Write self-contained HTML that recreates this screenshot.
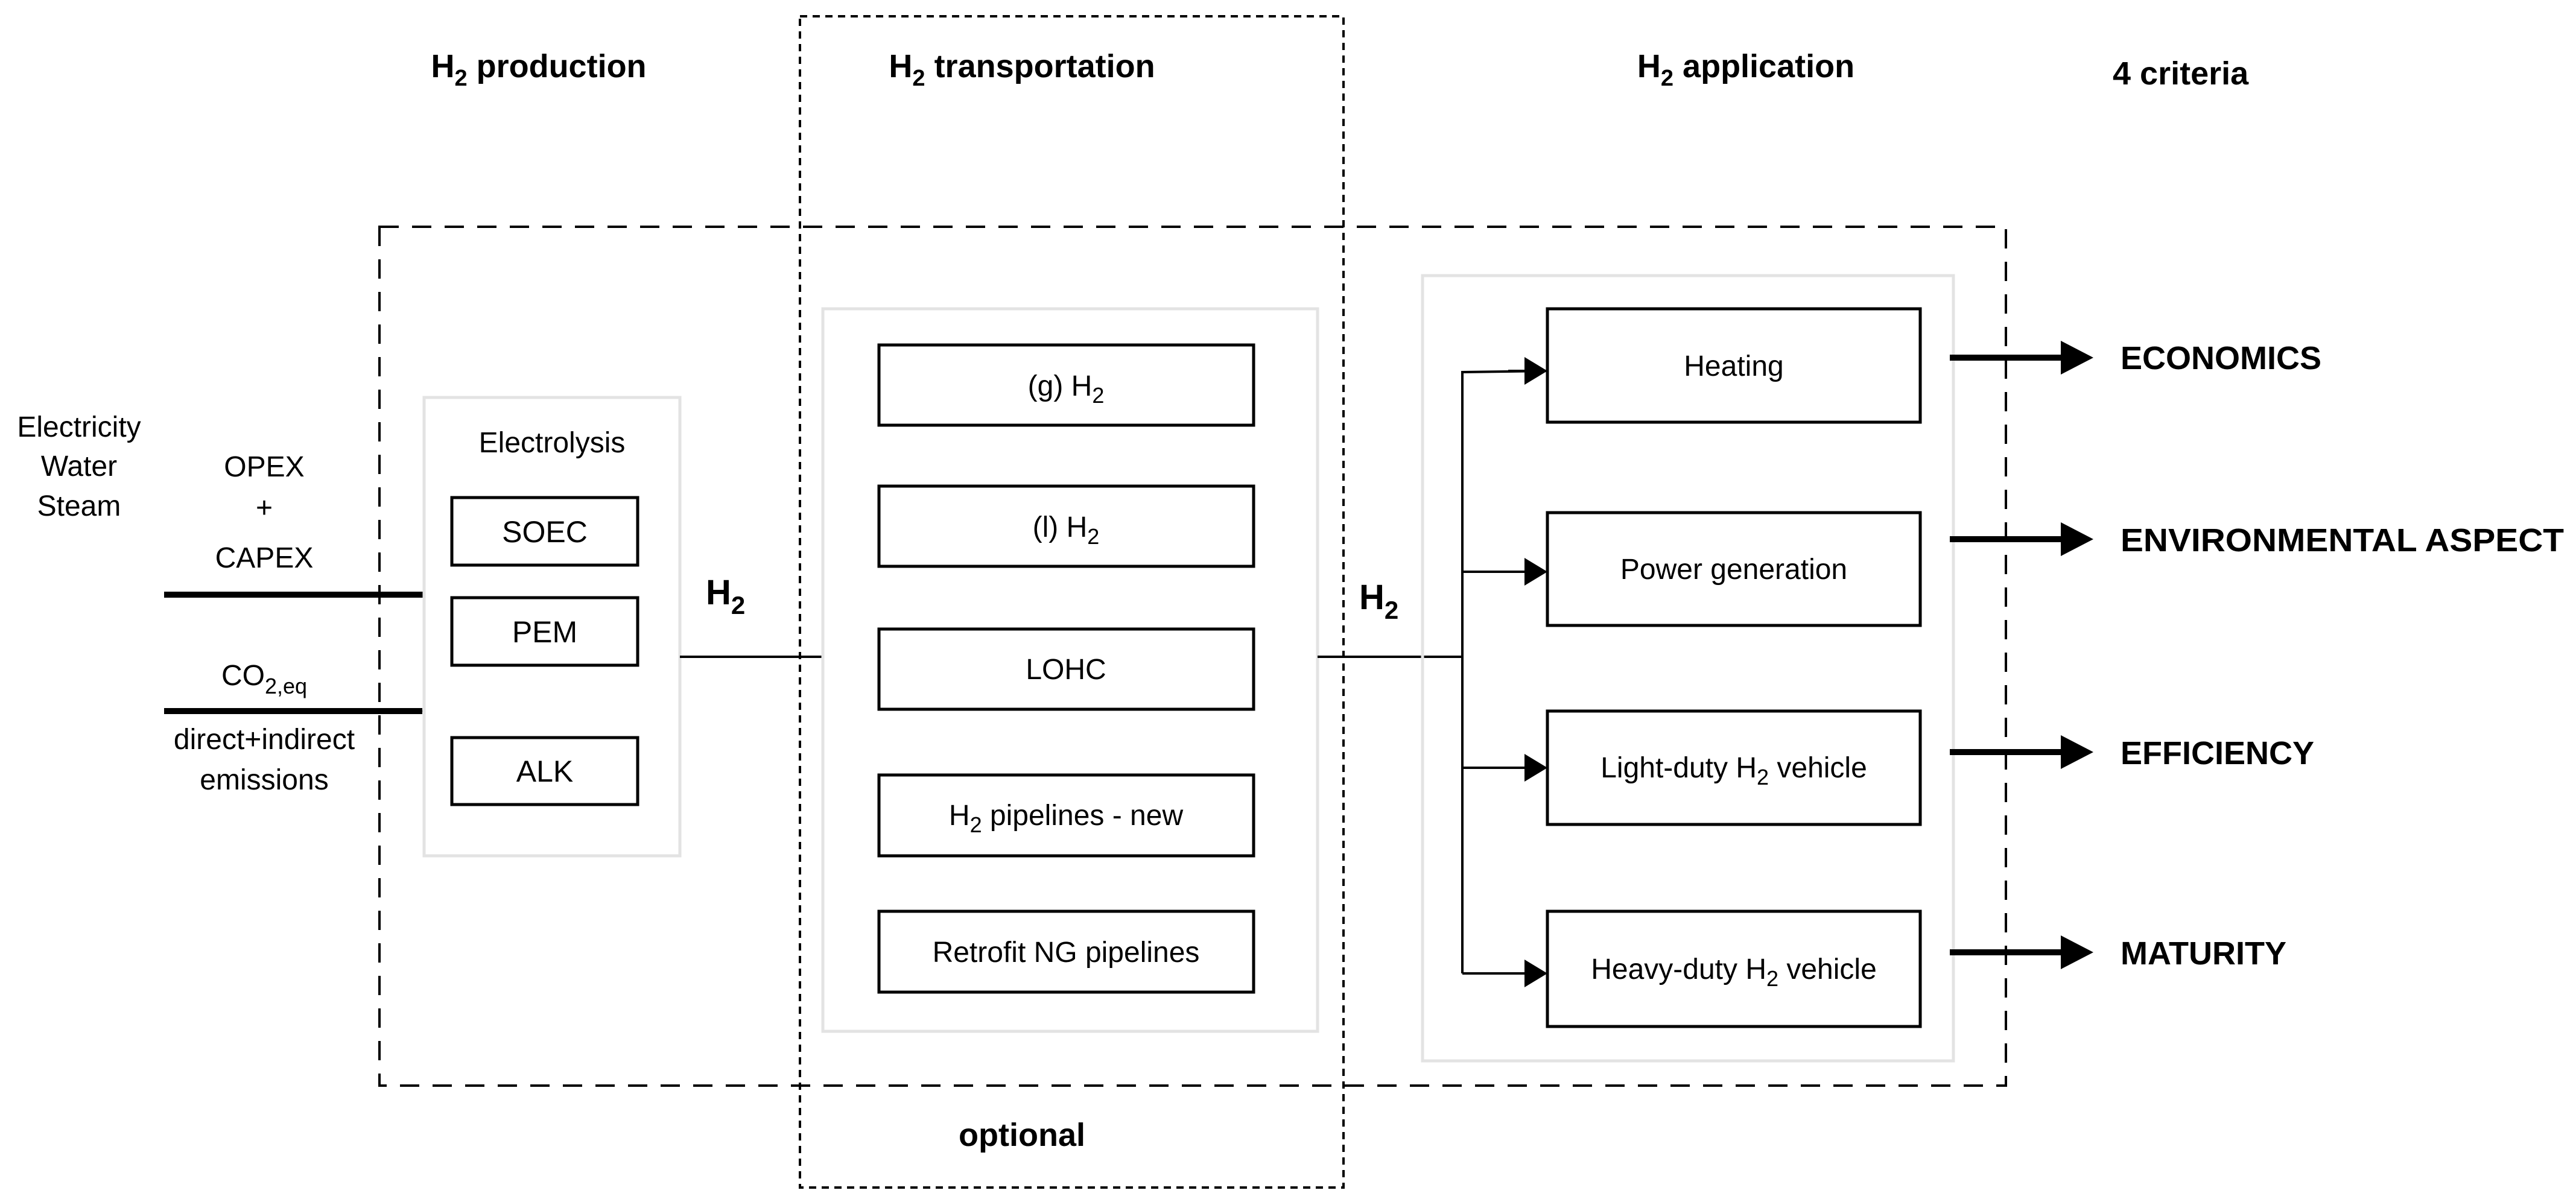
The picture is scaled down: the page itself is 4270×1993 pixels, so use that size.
<!DOCTYPE html>
<html><head><meta charset="utf-8"><style>
html,body{margin:0;padding:0;background:#fff}
svg{display:block}
text{font-family:"Liberation Sans",Arial,sans-serif;fill:#000}
.b{font-weight:bold}
</style></head><body>
<svg width="4270" height="1993" viewBox="0 0 4270 1993" xmlns="http://www.w3.org/2000/svg">
<defs>
<marker id="big" markerWidth="10" markerHeight="10" refX="9" refY="5" orient="auto" markerUnits="userSpaceOnUse" viewBox="0 0 10 10"><path d="M0,0 L10,5 L0,10 Z" fill="#000"/></marker>
</defs>
<!-- outer dashed box -->
<rect x="629" y="376" width="2696" height="1424" fill="none" stroke="#000" stroke-width="4" stroke-dasharray="32,22"/>
<!-- dotted transport box -->
<rect x="1326" y="27" width="901" height="1942" fill="none" stroke="#000" stroke-width="4" stroke-dasharray="12,9"/>

<!-- headers -->
<text class="b" x="893" y="128" font-size="54" text-anchor="middle">H<tspan font-size="38" dy="14">2</tspan><tspan dy="-14"> production</tspan></text>
<text class="b" x="1694" y="128" font-size="54" text-anchor="middle">H<tspan font-size="38" dy="14">2</tspan><tspan dy="-14"> transportation</tspan></text>
<text class="b" x="2894" y="128" font-size="54" text-anchor="middle">H<tspan font-size="38" dy="14">2</tspan><tspan dy="-14"> application</tspan></text>
<text class="b" x="3502" y="140" font-size="54">4 criteria</text>
<text class="b" x="1694" y="1900" font-size="54" text-anchor="middle">optional</text>

<!-- inputs -->
<g font-size="48" text-anchor="middle">
<text x="131" y="724">Electricity</text>
<text x="131" y="789">Water</text>
<text x="131" y="855">Steam</text>
<text x="438" y="790">OPEX</text>
<text x="438" y="858">+</text>
<text x="438" y="941">CAPEX</text>
<text x="438" y="1136">CO<tspan font-size="36" dy="14">2,eq</tspan></text>
<text x="438" y="1242">direct+indirect</text>
<text x="438" y="1309">emissions</text>
</g>
<line x1="272" y1="986" x2="703" y2="986" stroke="#000" stroke-width="10" marker-end="url(#big)" />
<line x1="272" y1="1179" x2="700" y2="1179" stroke="#000" stroke-width="10" marker-end="url(#big)"/>
<style>#big path{}</style>

<!-- electrolysis container -->
<rect x="703" y="659" width="424" height="760" fill="none" stroke="#e3e3e3" stroke-width="5"/>
<text x="915" y="750" font-size="48" text-anchor="middle">Electrolysis</text>
<g fill="none" stroke="#000" stroke-width="5">
<rect x="749" y="825" width="308" height="112"/>
<rect x="749" y="991" width="308" height="112"/>
<rect x="749" y="1223" width="308" height="111"/>
</g>
<g font-size="50" text-anchor="middle">
<text x="903" y="899">SOEC</text>
<text x="903" y="1065">PEM</text>
<text x="903" y="1296">ALK</text>
</g>

<!-- H2 link -->
<line x1="1127" y1="1089" x2="1364" y2="1089" stroke="#000" stroke-width="4"/>
<text class="b" x="1170" y="1002" font-size="58">H<tspan font-size="42" dy="16">2</tspan></text>

<!-- transport container -->
<rect x="1364" y="512" width="820" height="1198" fill="none" stroke="#e3e3e3" stroke-width="5"/>
<g fill="none" stroke="#000" stroke-width="5">
<rect x="1457" y="572" width="621" height="133"/>
<rect x="1457" y="806" width="621" height="133"/>
<rect x="1457" y="1043" width="621" height="133"/>
<rect x="1457" y="1285" width="621" height="134"/>
<rect x="1457" y="1511" width="621" height="134"/>
</g>
<g font-size="48" text-anchor="middle">
<text x="1767" y="656">(g) H<tspan font-size="36" dy="12">2</tspan></text>
<text x="1767" y="890">(l) H<tspan font-size="36" dy="12">2</tspan></text>
<text x="1767" y="1126">LOHC</text>
<text x="1767" y="1368">H<tspan font-size="36" dy="12">2</tspan><tspan dy="-12"> pipelines - new</tspan></text>
<text x="1767" y="1595">Retrofit NG pipelines</text>
</g>

<!-- H2 to application -->
<line x1="2184" y1="1089" x2="2424" y2="1089" stroke="#000" stroke-width="4"/>
<text class="b" x="2253" y="1010" font-size="58">H<tspan font-size="42" dy="16">2</tspan></text>
<polyline points="2424,1089 2424,617 2565,615" fill="none" stroke="#000" stroke-width="4"/>
<line x1="2424" y1="1089" x2="2424" y2="1614" stroke="#000" stroke-width="4"/>
<g stroke="#000" stroke-width="4">
<line x1="2424" y1="948" x2="2530" y2="948"/>
<line x1="2424" y1="1273" x2="2530" y2="1273"/>
<line x1="2424" y1="1614" x2="2530" y2="1614"/>
<line x1="2500" y1="615" x2="2530" y2="615"/>
</g>
<g fill="#000">
<path d="M2527,592 L2565,615 L2527,638 Z"/>
<path d="M2527,925 L2565,948 L2527,971 Z"/>
<path d="M2527,1250 L2565,1273 L2527,1296 Z"/>
<path d="M2527,1591 L2565,1614 L2527,1637 Z"/>
</g>

<!-- application container -->
<rect x="2358" y="457" width="880" height="1302" fill="none" stroke="#e3e3e3" stroke-width="5"/>
<g fill="none" stroke="#000" stroke-width="5">
<rect x="2565" y="512" width="618" height="188"/>
<rect x="2565" y="850" width="618" height="187"/>
<rect x="2565" y="1179" width="618" height="188"/>
<rect x="2565" y="1511" width="618" height="191"/>
</g>
<g font-size="48" text-anchor="middle">
<text x="2874" y="623">Heating</text>
<text x="2874" y="960">Power generation</text>
<text x="2874" y="1289">Light-duty H<tspan font-size="36" dy="12">2</tspan><tspan dy="-12"> vehicle</tspan></text>
<text x="2874" y="1623">Heavy-duty H<tspan font-size="36" dy="12">2</tspan><tspan dy="-12"> vehicle</tspan></text>
</g>

<!-- criteria arrows -->
<g stroke="#000" stroke-width="10">
<line x1="3232" y1="593" x2="3420" y2="593"/>
<line x1="3232" y1="894" x2="3420" y2="894"/>
<line x1="3232" y1="1247" x2="3420" y2="1247"/>
<line x1="3232" y1="1579" x2="3420" y2="1579"/>
</g>
<g fill="#000">
<path d="M3416,565 L3470,593 L3416,621 Z"/>
<path d="M3416,866 L3470,894 L3416,922 Z"/>
<path d="M3416,1219 L3470,1247 L3416,1275 Z"/>
<path d="M3416,1551 L3470,1579 L3416,1607 Z"/>
</g>
<g class="b" font-size="54">
<text class="b" x="3515" y="612">ECONOMICS</text>
<text class="b" x="3515" y="914" textLength="735" lengthAdjust="spacingAndGlyphs">ENVIRONMENTAL ASPECT</text>
<text class="b" x="3515" y="1267">EFFICIENCY</text>
<text class="b" x="3515" y="1599">MATURITY</text>
</g>
</svg>
</body></html>
